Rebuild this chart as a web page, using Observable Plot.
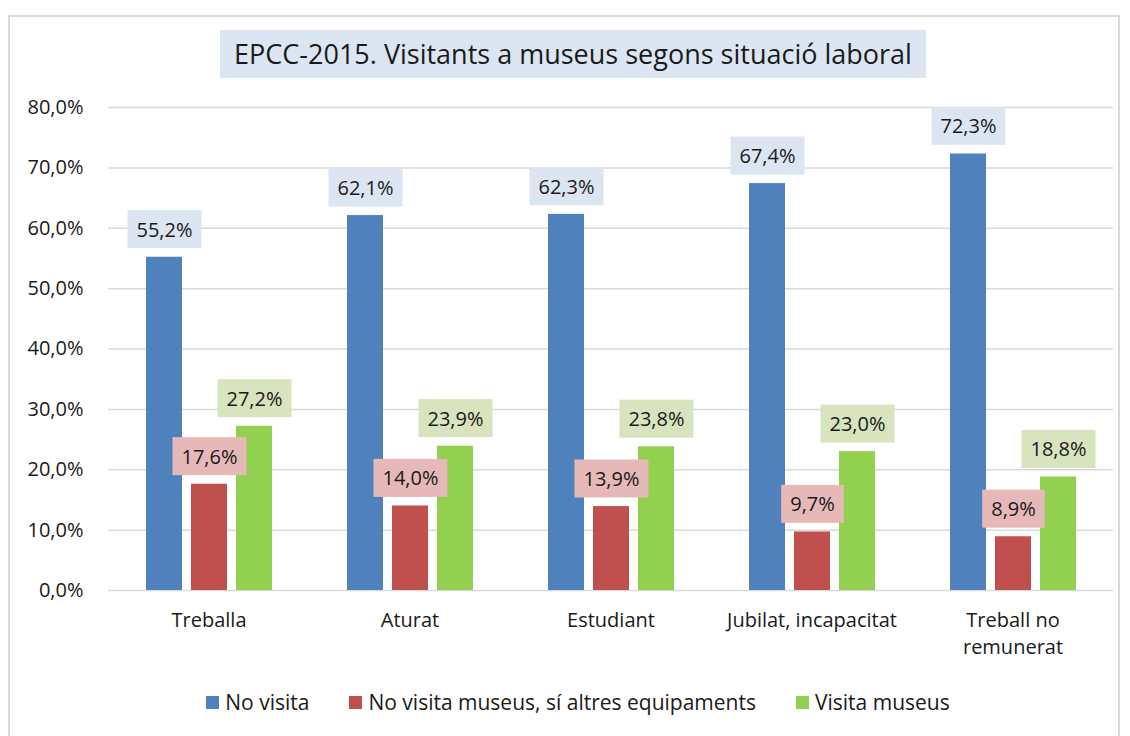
<!DOCTYPE html>
<html>
<head>
<meta charset="utf-8">
<script src="https://cdn.jsdelivr.net/npm/d3@7"></script>
<script src="https://cdn.jsdelivr.net/npm/@observablehq/plot@0.6"></script>
<style>
  html, body { margin: 0; padding: 0; background: #fff; }
  #wrap { position: relative; width: 1130px; height: 736px; overflow: hidden; font-family: "Open Sans", "Noto Sans", sans-serif; color: #1a1a1a; }
  #frame { position: absolute; left: 8px; top: 15px; width: 1112px; height: 760px; border: 2px solid #d9d9d9; box-sizing: border-box; pointer-events: none; }
  #title { position: absolute; top: 30px; left: 573px; transform: translateX(-50%); background: #dce6f2; height: 48px; line-height: 48px; padding: 0 14px; font-size: 27px; white-space: nowrap; }
  #chart { position: absolute; left: 0; top: 0; }
  #legend { position: absolute; top: 688px; left: 0; width: 1156px; display: flex; justify-content: center; font-size: 21px; }
  .item { display: flex; align-items: center; margin: 0 20px; }
  .sw { width: 13px; height: 13px; margin-right: 6px; }
</style>
</head>
<body>
<div id="wrap">
  <div id="chart"></div>
  <div id="title"></div>
  <div id="legend"></div>
  <div id="frame"></div>
</div>
<script>
const titleText = "EPCC-2015. Visitants a museus segons situació laboral";
const categories = ["Treballa", "Aturat", "Estudiant", "Jubilat, incapacitat", "Treball no remunerat"];
const categoryLabels = ["Treballa", "Aturat", "Estudiant", "Jubilat, incapacitat", "Treball no\nremunerat"];
const series = ["No visita", "No visita museus, sí altres equipaments", "Visita museus"];
const noVisita = [55.2, 62.1, 62.3, 67.4, 72.3];
const altresEquip = [17.6, 14.0, 13.9, 9.7, 8.9];
const visitaMuseus = [27.2, 23.9, 23.8, 23.0, 18.8];
const yTicks = [0, 10, 20, 30, 40, 50, 60, 70, 80];
const barColors = ["#4f81bd", "#c0504d", "#92d050"];
const boxColors = ["#dce6f2", "#e6b9b8", "#d7e4bd"];

const valuesBySeries = [noVisita, altresEquip, visitaMuseus];
const rows = [];
categories.forEach((c, i) => {
  series.forEach((s, k) => rows.push({cat: c, series: s, value: valuesBySeries[k][i]}));
});
const fmt = v => v.toFixed(1).replace(".", ",") + "%";
const labelOf = new Map(categories.map((c, i) => [c, categoryLabels[i]]));
const boxOf = new Map(series.map((s, k) => [s, boxColors[k]]));

document.getElementById("title").textContent = titleText;

const chart = Plot.plot({
  width: 1130,
  height: 680,
  marginTop: 107,
  marginBottom: 90,
  marginLeft: 108,
  marginRight: 17,
  style: {fontFamily: "'Open Sans', 'Noto Sans', sans-serif", fontSize: "20px", color: "#1a1a1a", background: "transparent"},
  fx: {domain: categories, padding: 0, label: null},
  x: {domain: series, paddingInner: 0.2, paddingOuter: 0.833, axis: null},
  y: {domain: [0, 80], label: null},
  color: {domain: series, range: barColors},
  marks: [
    Plot.gridY(yTicks, {stroke: "#d9d9d9", strokeOpacity: 1, strokeWidth: 1.5}),
    Plot.axisY(yTicks, {tickSize: 0, tickPadding: 25, tickFormat: fmt, label: null, fill: "#1a1a1a"}),
    Plot.axisFx({anchor: "bottom", tickSize: 0, tickPadding: 17, label: null, tickFormat: d => labelOf.get(d), lineHeight: 1.35, lineAnchor: "top", fill: "#1a1a1a"}),
    Plot.barY(rows, {fx: "cat", x: "series", y: "value", fill: "series"}),
    Plot.text(rows, {
      fx: "cat", x: "series", y: "value", text: d => fmt(d.value), dy: -27,
      lineAnchor: "middle", fill: "#1a1a1a",
      render(index, scales, values, dimensions, context, next) {
        const g = next(index, scales, values, dimensions, context);
        const texts = g.querySelectorAll("text");
        texts.forEach((t, j) => t.setAttribute("data-bg", boxOf.get(rows[index[j]].series)));
        return g;
      }
    })
  ]
});
document.getElementById("chart").append(chart);

// label boxes behind the data labels
chart.querySelectorAll("text[data-bg]").forEach(t => {
  const bb = t.getBBox();
  const cy = bb.y + bb.height / 2;
  const r = document.createElementNS("http://www.w3.org/2000/svg", "rect");
  r.setAttribute("x", bb.x - 9);
  r.setAttribute("y", cy - 19);
  r.setAttribute("width", bb.width + 18);
  r.setAttribute("height", 38);
  r.setAttribute("fill", t.getAttribute("data-bg"));
  if (t.getAttribute("transform")) r.setAttribute("transform", t.getAttribute("transform"));
  t.parentNode.insertBefore(r, t);
});

const legend = document.getElementById("legend");
series.forEach((s, k) => {
  const it = document.createElement("div");
  it.className = "item";
  const sw = document.createElement("div");
  sw.className = "sw";
  sw.style.background = barColors[k];
  const tx = document.createElement("span");
  tx.textContent = s;
  it.append(sw, tx);
  legend.append(it);
});
</script>
</body>
</html>
